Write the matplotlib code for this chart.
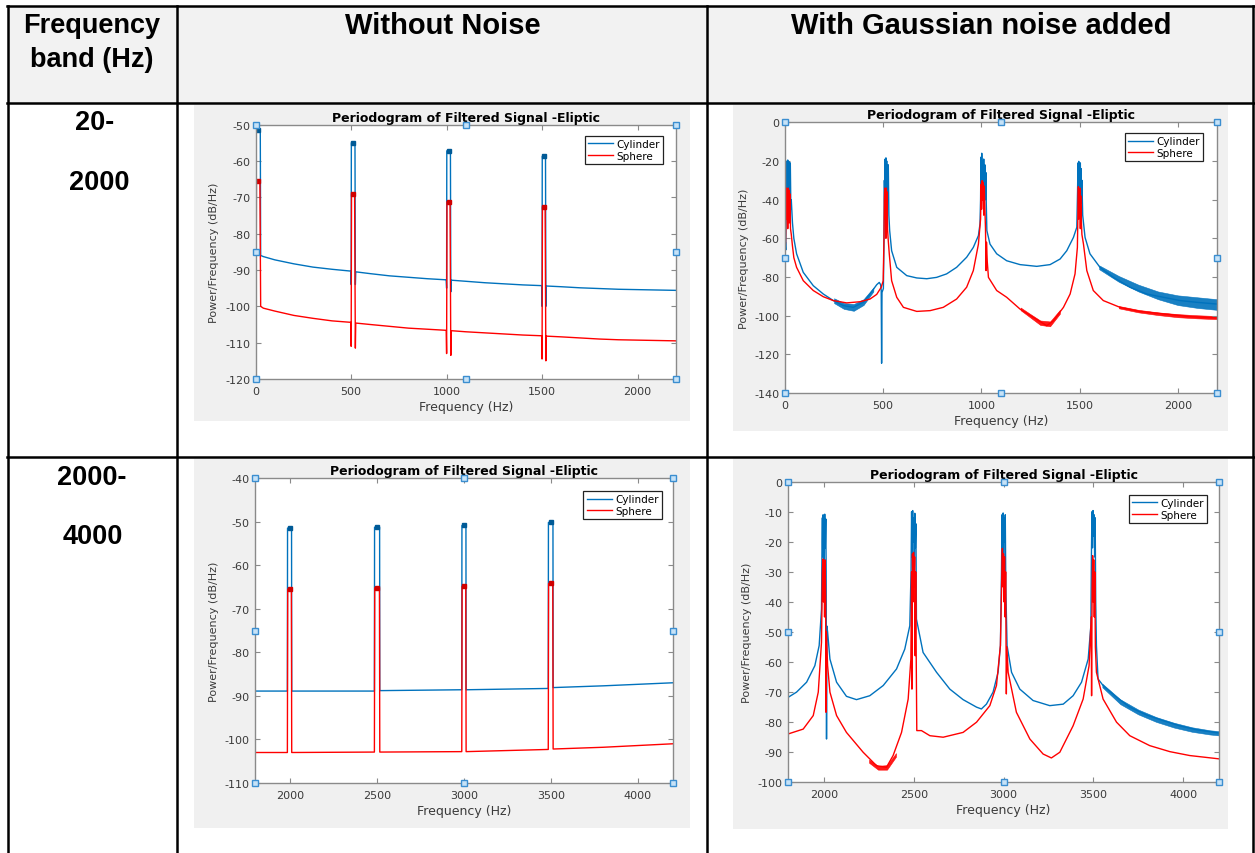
import matplotlib
matplotlib.use('Agg')
import matplotlib.pyplot as plt
import numpy as np
from matplotlib.patches import Rectangle

W, H = 1255, 854
plt.rcParams['font.family'] = ['Liberation Sans', 'DejaVu Sans']
plt.rcParams['axes.unicode_minus'] = False

BLUE = '#0072BD'
RED = '#FF0000'
PLOT_FONT = 'DejaVu Sans'

# ---- table text ----
col_headers = ['Without Noise', 'With Gaussian noise added']
band_labels = [('20-', '2000'), ('2000-', '4000')]
title = 'Periodogram of Filtered Signal -Eliptic'

# ---- 20-2000 Hz, no noise: (Hz, dB/Hz) ----
lo_clean_cyl = [(0, -88), (0, -50), (3, -50), (4, -51.5), (24, -51.5), (26, -86), (40, -86.3),
                (100, -87.2), (200, -88.3), (300, -89.2), (400, -89.8), (498, -90.3),
                (500, -94), (501, -55), (520, -55), (522, -94), (524, -90.5),
                (600, -91), (700, -91.6), (800, -92), (900, -92.4), (998, -92.7),
                (1000, -95), (1001, -57.2), (1020, -57.2), (1022, -96), (1024, -92.8),
                (1100, -93.1), (1200, -93.5), (1300, -93.8), (1400, -94.1), (1498, -94.3),
                (1500, -100), (1501, -58.7), (1518, -58.7), (1520, -100), (1522, -94.4),
                (1600, -94.6), (1700, -94.9), (1800, -95.1), (1900, -95.3), (2000, -95.4),
                (2100, -95.5), (2200, -95.6)]
lo_clean_sph = [(0, -102), (0, -100), (2, -99), (4, -65.5), (22, -65.5), (26, -100), (40, -100.5),
                (100, -101.3), (200, -102.5), (300, -103.3), (400, -104), (498, -104.4),
                (500, -111), (502, -69), (518, -69), (522, -111.5), (524, -104.6),
                (600, -105), (700, -105.5), (800, -106), (900, -106.3), (998, -106.6),
                (1000, -113), (1002, -71.2), (1018, -71.2), (1022, -113.5), (1024, -106.7),
                (1100, -107), (1200, -107.3), (1300, -107.6), (1400, -107.9), (1498, -108.1),
                (1500, -114.5), (1502, -72.6), (1516, -72.6), (1520, -115), (1522, -108.2),
                (1600, -108.4), (1700, -108.7), (1800, -109), (1900, -109.2), (2000, -109.3),
                (2100, -109.4), (2200, -109.5)]
lo_clean_cyl_peaks = [(14, -51.5), (510, -55), (1010, -57.2), (1510, -58.7)]
lo_clean_sph_peaks = [(14, -65.5), (510, -69), (1010, -71.2), (1510, -72.6)]

# ---- 2000-4000 Hz, no noise ----
hi_clean_cyl = [(1800, -88.9), (1986, -88.9), (1987, -51.5), (2010, -51.5), (2011, -88.9),
                (2486, -88.9), (2487, -51.3), (2516, -51.3), (2517, -88.8),
                (2988, -88.6), (2989, -50.9), (3012, -50.9), (3013, -88.6),
                (3485, -88.3), (3486, -50.2), (3512, -50.2), (3513, -88.1),
                (3800, -87.7), (4200, -87.0)]
hi_clean_sph = [(1800, -103.0), (1986, -103.0), (1988, -65.5), (2009, -65.5), (2011, -103.0),
                (2486, -102.9), (2488, -65.2), (2515, -65.2), (2517, -102.9),
                (2988, -102.8), (2990, -64.9), (3011, -64.9), (3013, -102.8),
                (3485, -102.3), (3487, -64.2), (3511, -64.2), (3513, -102.2),
                (3800, -101.8), (4200, -101.0)]
hi_clean_cyl_peaks = [(2000, -51.5), (2500, -51.3), (3000, -50.9), (3500, -50.2)]
hi_clean_sph_peaks = [(2000, -65.5), (2500, -65.2), (3000, -64.9), (3500, -64.2)]

# ---- 20-2000 Hz, gaussian noise ----
lo_noisy_cyl = [(0, -72), (2, -62), (4, -66), (6, -40), (7, -21), (8, -45), (10, -20), (12, -38),
                (14, -19.5), (16, -30), (18, -22), (20, -42), (22, -20.5), (24, -35), (27, -21),
                (30, -45), (32, -40), (38, -52), (45, -60), (59, -68), (93, -77.6), (144, -84.5),
                (195, -88.8), (246, -92.2), (297, -94.8), (348, -95.7), (399, -93), (433, -88.8),
                (467, -84), (480, -82.8), (487, -84), (490, -87), (492, -124.6), (494, -88),
                (501, -86), (504, -62), (506, -30), (508, -45), (510, -19), (512, -35),
                (514, -18.4), (516, -32), (518, -20), (520, -40), (522, -24), (524, -38),
                (526, -22), (529, -48), (533, -56), (543, -66.4), (569, -75), (620, -79.3),
                (671, -80.5), (722, -80.9), (772, -80.2), (823, -78.4), (874, -75), (925, -69.8),
                (959, -64.7), (985, -58.6), (993, -52.6), (996, -40), (998, -18), (1000, -35),
                (1002, -16), (1004, -30), (1007, -20), (1009, -38), (1012, -19), (1015, -33),
                (1018, -22), (1021, -40), (1023, -26), (1025, -42), (1028, -56), (1044, -63),
                (1078, -68), (1129, -71.6), (1197, -73.6), (1282, -74.5), (1350, -73.6),
                (1401, -70.7), (1435, -66.4), (1469, -59.5), (1486, -54.3), (1490, -35),
                (1492, -21), (1494, -38), (1496, -20.2), (1498, -32), (1500, -22), (1502, -40),
                (1504, -21), (1506, -34), (1508, -24), (1510, -42), (1512, -30), (1516, -48),
                (1528, -59.5), (1553, -68), (1604, -75), (1672, -80.2), (1757, -85.3),
                (1842, -88.8), (1927, -90.5), (2012, -92.2), (2097, -93.1), (2200, -94)]
lo_noisy_sph = [(0, -66), (3, -62), (6, -45), (8, -34), (10, -50), (12, -36), (14, -55), (16, -34),
                (18, -45), (20, -35), (22, -52), (25, -37), (28, -55), (32, -58), (38, -64),
                (45, -70), (59, -75), (93, -81.9), (144, -87), (195, -90.2), (246, -92.2),
                (314, -93.4), (382, -92.8), (433, -91.4), (467, -89), (490, -85.3), (500, -82),
                (504, -60), (506, -40), (508, -34), (510, -50), (512, -35), (514, -60),
                (516, -34), (518, -45), (520, -36), (522, -55), (525, -60), (531, -68),
                (543, -81.9), (569, -90.5), (603, -95.7), (671, -97.8), (739, -97.4),
                (806, -95.7), (874, -91.4), (925, -85.3), (959, -76.7), (985, -63), (996, -50),
                (999, -32), (1001, -45), (1004, -30.2), (1006, -40), (1009, -31), (1012, -48),
                (1015, -33), (1018, -45), (1021, -55), (1024, -76.7), (1026, -62), (1030, -72),
                (1036, -80.2), (1078, -87), (1129, -90.5), (1197, -96.6), (1265, -100.9),
                (1333, -105.2), (1367, -102.6), (1418, -95.7), (1452, -88.8), (1477, -78.4),
                (1489, -64.7), (1492, -45), (1494, -33.3), (1496, -50), (1498, -35), (1500, -45),
                (1502, -34), (1504, -55), (1506, -38), (1509, -50), (1512, -58), (1520, -63),
                (1537, -76.7), (1570, -87), (1621, -92.2), (1706, -95.7), (1808, -97.8),
                (1927, -99.1), (2063, -100.5), (2200, -101.2)]
# noise envelopes (Hz, upper, lower)
lo_noisy_cyl_bands = [[(250, -91, -93.5), (300, -93.5, -96.5), (350, -94, -97.5),
                       (400, -91.5, -94.5), (450, -85.5, -87.5)],
                      [(1600, -74, -76), (1700, -79.5, -82.5), (1800, -84, -87.5),
                       (1900, -87.5, -91.5), (2000, -89.5, -94.5), (2100, -90.5, -96),
                       (2200, -91.5, -97)]]
lo_noisy_sph_bands = [[(1200, -95.8, -97.2), (1250, -99.2, -101), (1300, -102.5, -104.8),
                       (1350, -103, -105.5), (1400, -97, -99)],
                      [(1700, -95, -96.2), (1800, -97, -98.3), (1900, -98.3, -99.7),
                       (2000, -99.2, -100.8), (2100, -99.8, -101.4), (2200, -100.2, -101.8)]]

# ---- 2000-4000 Hz, gaussian noise ----
hi_noisy_cyl = [(1800, -71.7), (1846, -70), (1902, -66.7), (1948, -61.2), (1972, -54.5),
                (1985, -42.4), (1988, -20), (1990, -12), (1992, -25), (1994, -11), (1996, -20),
                (1998, -13), (2000, -28), (2003, -10.8), (2006, -22), (2009, -12.4), (2011, -30),
                (2013, -85.6), (2015, -48), (2019, -50), (2032, -59), (2069, -66.7),
                (2124, -71.4), (2180, -72.5), (2254, -71.2), (2329, -67.8), (2403, -62.3),
                (2449, -55.7), (2477, -47.9), (2484, -30), (2487, -10), (2490, -25),
                (2493, -9.6), (2496, -20), (2499, -12), (2502, -30), (2505, -10.5), (2508, -22),
                (2511, -14), (2514, -45.7), (2551, -56.8), (2626, -63.4), (2700, -69),
                (2774, -72.5), (2849, -75), (2876, -75.6), (2904, -74), (2941, -70),
                (2969, -63.4), (2982, -54.5), (2988, -30), (2991, -11), (2994, -22),
                (2997, -10.4), (3000, -25), (3003, -12), (3006, -20), (3009, -11), (3012, -35),
                (3019, -54.5), (3044, -63.4), (3090, -69), (3164, -72.8), (3257, -74.5),
                (3332, -74), (3387, -71.2), (3434, -66.7), (3471, -59), (3486, -47.9),
                (3489, -25), (3492, -10), (3495, -22), (3498, -9.6), (3501, -18), (3504, -11),
                (3507, -25), (3510, -12), (3513, -40), (3517, -54.5), (3526, -65.6),
                (3554, -67.8), (3629, -71.7), (3703, -75), (3796, -77.6), (3889, -79.5),
                (3981, -81.2), (4074, -82.5), (4200, -83.6)]
hi_noisy_sph = [(1800, -83.9), (1883, -82.3), (1939, -77.8), (1967, -70), (1985, -53.4),
                (1990, -30), (1993, -25.7), (1996, -40), (1999, -27), (2002, -45), (2005, -26),
                (2008, -38), (2010, -76.7), (2012, -50), (2019, -61.2), (2032, -70),
                (2069, -77.8), (2124, -83.4), (2217, -90), (2292, -94.5), (2347, -95),
                (2384, -91.1), (2431, -83.4), (2468, -72.3), (2483, -59), (2487, -30),
                (2489, -69), (2492, -24), (2495, -40), (2498, -23.5), (2501, -35), (2504, -25),
                (2507, -57.9), (2510, -30), (2513, -60), (2516, -82.8), (2542, -82.8),
                (2589, -84.5), (2663, -85), (2774, -83.4), (2849, -80), (2923, -74.5),
                (2960, -67.8), (2982, -54.5), (2990, -30), (2993, -22.2), (2996, -35),
                (2999, -24), (3002, -40), (3005, -25), (3008, -45), (3011, -30), (3015, -70.6),
                (3018, -55), (3025, -63.4), (3071, -76.7), (3146, -85.6), (3220, -90.6),
                (3266, -91.9), (3313, -90), (3387, -81.2), (3443, -72.3), (3476, -61.2),
                (3488, -45), (3490, -71.2), (3493, -35), (3496, -24.6), (3499, -40),
                (3502, -26), (3505, -45), (3508, -30), (3511, -55), (3517, -63.4),
                (3554, -72.3), (3629, -80), (3703, -84.5), (3814, -87.8), (3926, -89.8),
                (4037, -91.1), (4200, -92.2)]
hi_noisy_cyl_bands = [[(3550, -67.2, -68.4), (3650, -72.4, -74), (3750, -75.8, -77.4),
                       (3850, -78.3, -79.9), (3950, -80.2, -81.8), (4050, -81.7, -83.2),
                       (4150, -82.7, -84.1), (4200, -83, -84.4)]]
hi_noisy_sph_bands = [[(2250, -92.5, -93.5), (2300, -94.5, -95.8), (2350, -94.3, -95.8),
                       (2400, -90.3, -91.5)]]

fig = plt.figure(figsize=(W / 100, H / 100), dpi=100)


def px_rect(x0, y0, x1, y1):
    return [x0 / W, 1 - y1 / H, (x1 - x0) / W, (y1 - y0) / H]


# table layer in pixel coordinates
tbl = fig.add_axes([0, 0, 1, 1])
tbl.set_xlim(0, W)
tbl.set_ylim(H, 0)
tbl.axis('off')
tbl.add_patch(Rectangle((8, 7), 1246, 97, color='#f2f2f2', lw=0))
for x0, y0, x1, y1 in [(194, 106, 690, 422), (733, 106, 1228, 432),
                       (194, 460, 690, 829), (733, 460, 1228, 830)]:
    tbl.add_patch(Rectangle((x0, y0), x1 - x0, y1 - y0, color='#f0f0f0', lw=0))
for y in (7, 104, 458):
    tbl.plot([7, 1254], [y, y], color='black', lw=1.8, solid_capstyle='projecting')
for x in (8, 177, 707, 1253):
    tbl.plot([x, x], [7, H + 2], color='black', lw=1.8, solid_capstyle='projecting')

hfont = dict(ha='center', va='center', fontsize=19.5, fontweight='bold', color='black')
tbl.text(92, 26, 'Frequency', **hfont)
tbl.text(92, 60, 'band (Hz)', **hfont)
tbl.text(443, 26, col_headers[0], **dict(hfont, fontsize=21))
tbl.text(981, 26, col_headers[1], **dict(hfont, fontsize=21))
tbl.text(95, 123, band_labels[0][0], **hfont)
tbl.text(99, 183, band_labels[0][1], **hfont)
tbl.text(92, 478, band_labels[1][0], **hfont)
tbl.text(93, 537, band_labels[1][1], **hfont)


def periodogram(box, xlim, ylim, xticks, yticks, cyl, sph, anchor,
                cyl_bands=(), sph_bands=(), cyl_peaks=None, sph_peaks=None):
    ax = fig.add_axes(px_rect(*box))
    ax.set_facecolor('white')
    cf, cv = np.array(cyl).T
    sf, sv = np.array(sph).T
    lc, = ax.plot(cf, cv, color=BLUE, lw=1.0, label='Cylinder')
    for band in cyl_bands:
        bf, bu, bl = np.array(band).T
        ax.fill_between(bf, bl, bu, color=BLUE, lw=0.4, edgecolor=BLUE, alpha=0.9)
    if cyl_peaks:
        pf, pv = np.array(cyl_peaks).T
        ax.plot(pf, pv, ls='none', marker='s', ms=2.5, color='#005a96')
    ls, = ax.plot(sf, sv, color=RED, lw=1.0, label='Sphere')
    for band in sph_bands:
        bf, bu, bl = np.array(band).T
        ax.fill_between(bf, bl, bu, color=RED, lw=0.4, edgecolor=RED, alpha=0.9)
    if sph_peaks:
        pf, pv = np.array(sph_peaks).T
        ax.plot(pf, pv, ls='none', marker='s', ms=2.5, color='#d00000')

    ax.set_xlim(*xlim)
    ax.set_ylim(*ylim)
    ax.set_xticks(xticks)
    ax.set_yticks(yticks)
    for s in ax.spines.values():
        s.set_color('#8a8a8a')
        s.set_linewidth(1.0)
    ax.tick_params(direction='in', length=3.5, width=0.8, color='#8a8a8a',
                   labelsize=8, labelcolor='#3a3a3a', top=True, right=True)
    ax.tick_params(axis='x', pad=5)
    ax.tick_params(axis='y', pad=4)
    for lab in ax.get_xticklabels() + ax.get_yticklabels():
        lab.set_family(PLOT_FONT)
    ax.set_title(title, fontsize=9, fontweight='bold', pad=3, family=PLOT_FONT)
    ax.set_xlabel('Frequency (Hz)', fontsize=9, color='#3a3a3a', labelpad=3, family=PLOT_FONT)
    ax.set_ylabel('Power/Frequency (dB/Hz)', fontsize=8, color='#3a3a3a', labelpad=4,
                  family=PLOT_FONT)

    leg = ax.legend(handles=[lc, ls], loc='upper right', bbox_to_anchor=anchor,
                    borderaxespad=0, prop={'family': PLOT_FONT, 'size': 7.5},
                    fancybox=False, framealpha=1, handlelength=2.4, handletextpad=0.35,
                    borderpad=0.3, labelspacing=0.15)
    leg.get_frame().set_edgecolor('#222222')
    leg.get_frame().set_linewidth(0.9)

    # selection handles on the axes box
    ax.plot([0, 0.5, 1, 0, 1, 0, 0.5, 1], [1, 1, 1, 0.5, 0.5, 0, 0, 0],
            transform=ax.transAxes, ls='none', marker='s', ms=4.5, mfc='#c6e2f7',
            mec='#3b8ed0', mew=1, clip_on=False, zorder=6)
    return ax


periodogram((255.7, 125.7, 675.7, 380), (0, 2200), (-120, -50),
            [0, 500, 1000, 1500, 2000], range(-120, -49, 10),
            lo_clean_cyl, lo_clean_sph, (0.970, 0.956),
            cyl_peaks=lo_clean_cyl_peaks, sph_peaks=lo_clean_sph_peaks)
periodogram((785, 123.3, 1217, 394), (0, 2200), (-140, 0),
            [0, 500, 1000, 1500, 2000], range(-140, 1, 20),
            lo_noisy_cyl, lo_noisy_sph, (0.968, 0.960),
            cyl_bands=lo_noisy_cyl_bands, sph_bands=lo_noisy_sph_bands)
periodogram((255, 479, 672.7, 784), (1800, 4200), (-110, -40),
            [2000, 2500, 3000, 3500, 4000], range(-110, -39, 10),
            hi_clean_cyl, hi_clean_sph, (0.974, 0.957),
            cyl_peaks=hi_clean_cyl_peaks, sph_peaks=hi_clean_sph_peaks)
periodogram((788.3, 482.7, 1219, 783.3), (1800, 4200), (-100, 0),
            [2000, 2500, 3000, 3500, 4000], range(-100, 1, 10),
            hi_noisy_cyl, hi_noisy_sph, (0.972, 0.956),
            cyl_bands=hi_noisy_cyl_bands, sph_bands=hi_noisy_sph_bands)

fig.savefig('out.png', dpi=100)
